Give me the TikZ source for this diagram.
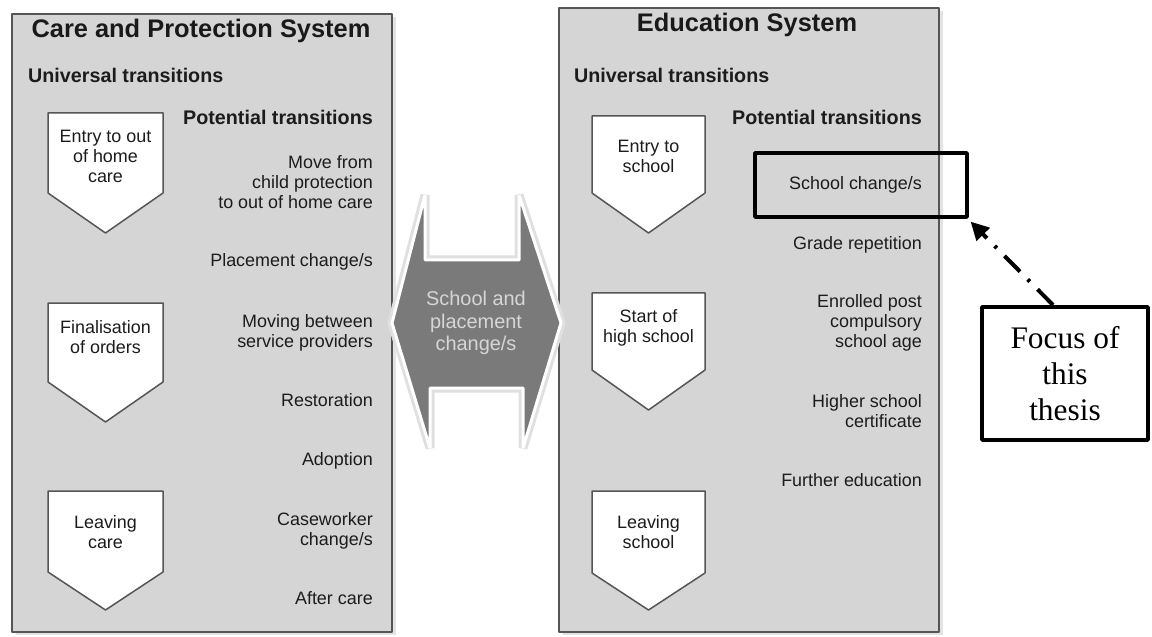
\documentclass[tikz,border=0pt]{standalone}
\usepackage{fontspec}
\setmainfont{Liberation Sans}
\newfontfamily\thesisfont{Liberation Serif}
\usepackage{tikz}
\usetikzlibrary{shapes,arrows,arrows.meta,shadows,positioning}
\definecolor{panelcol}{RGB}{213,213,213}
\definecolor{edgecol}{RGB}{85,85,85}
\definecolor{txtcol}{RGB}{28,28,28}
\definecolor{swapcol}{RGB}{122,122,122}
\definecolor{swaptxt}{RGB}{214,214,214}

\begin{document}
\begin{tikzpicture}[x=1bp,y=-1bp,line join=bevel,
  panel/.style={draw=edgecol,fill=panelcol,line width=2bp,
    drop shadow={shadow xshift=4bp,shadow yshift=-3bp,opacity=.22}},
  chev/.style={draw=edgecol,fill=white,line width=1.5bp},
  txt/.style={inner sep=0pt,text=txtcol,font=\fontsize{18}{20}\selectfont},
  rtxt/.style={txt,align=right,anchor=north east},
  ctxt/.style={txt,align=center,anchor=north},
  head/.style={inner sep=0pt,text=txtcol,font=\bfseries\fontsize{19.8}{22}\selectfont},
  title/.style={inner sep=0pt,text=black!90,font=\bfseries\fontsize{25.5}{28}\selectfont,anchor=base},
  hlbox/.style={draw=black,line width=4bp,inner sep=0pt},
  focusbox/.style={draw=black,fill=white,line width=4bp,inner sep=0pt,
    minimum width=166bp,minimum height=133bp,align=center,
    font=\thesisfont\fontsize{31.5}{36.5}\selectfont},
  focusarrow/.style={line width=4bp,dash pattern=on 22bp off 11bp on 3bp off 11bp,
    -{Triangle[length=18bp,width=18bp]},shorten >=3bp}]
\useasboundingbox (0,0) rectangle (1152,637);

% the two systems
\node[panel,minimum width=380bp,minimum height=618bp] (lpanel) at (202,323) {};
\node[panel,minimum width=380bp,minimum height=624bp] (rpanel) at (749,320) {};

\node[title] (ltitle) at (201,38) {Care and Protection System};
\node[title] (rtitle) at (747,32) {Education System};

\node[head,anchor=base west] (luniv) at (28,83) {Universal transitions};
\node[head,anchor=base west] (runiv) at (574,83) {Universal transitions};
\node[head,anchor=base east] (lpot) at (373,125) {Potential transitions};
\node[head,anchor=base east] (rpot) at (922,125) {Potential transitions};

% universal transitions, care side
\draw[chev] (48,113) -- ++(115,0) -- ++(0,80) -- ++(-57.5,40) -- ++(-57.5,-40) -- cycle;
\draw[chev] (48,303) -- ++(115,0) -- ++(0,79) -- ++(-57.5,40) -- ++(-57.5,-40) -- cycle;
\draw[chev] (48,491) -- ++(115,0) -- ++(0,81) -- ++(-57.5,38) -- ++(-57.5,-38) -- cycle;
\node[ctxt] (entry) at (105.5,130) {Entry to out\\of home\\care};
\node[ctxt] (final) at (105.5,320) {Finalisation\\of orders};
\node[ctxt] (leavec) at (105.5,515) {Leaving\\care};

% universal transitions, school side
\draw[chev] (592,116) -- ++(113,0) -- ++(0,77) -- ++(-56.5,40) -- ++(-56.5,-40) -- cycle;
\draw[chev] (592,293) -- ++(113,0) -- ++(0,77) -- ++(-56.5,40) -- ++(-56.5,-40) -- cycle;
\draw[chev] (592,491) -- ++(113,0) -- ++(0,82) -- ++(-56.5,37) -- ++(-56.5,-37) -- cycle;
\node[ctxt] (school) at (648.5,140) {Entry to\\school};
\node[ctxt] (high) at (648.5,309) {Start of\\high school};
\node[ctxt] (leaves) at (648.5,515) {Leaving\\school};

% potential transitions, care side
\node[rtxt] (move) at (373,155) {Move from\\child protection\\to out of home care};
\node[txt,anchor=base east] (place) at (373,267) {Placement change/s};
\node[rtxt] (provider) at (373,314) {Moving between\\service providers};
\node[txt,anchor=base east] (restore) at (373,406) {Restoration};
\node[txt,anchor=base east] (adopt) at (373,465) {Adoption};
\node[rtxt] (casew) at (373,512) {Caseworker\\change/s};
\node[txt,anchor=base east] (after) at (373,604) {After care};

% potential transitions, school side
\node[txt,anchor=base east] (schchange) at (922,190) {School change/s};
\node[txt,anchor=base east] (grade) at (922,250) {Grade repetition};
\node[rtxt] (enrol) at (922,294) {Enrolled post\\compulsory\\school age};
\node[rtxt] (hsc) at (922,394) {Higher school\\certificate};
\node[txt,anchor=base east] (further) at (922,486) {Further education};

% double arrow in the middle
\draw[black!12,line width=9bp] (425,195) -- (425,260) -- (519,260) -- (519,195) -- (561,323)
  -- (523,448) -- (523,388) -- (430,388) -- (430,448) -- (392,323) -- cycle;
\draw[fill=swapcol,draw=white,line width=3bp] (425,195) -- (425,260) -- (519,260) -- (519,195)
  -- (561,323) -- (523,448) -- (523,388) -- (430,388) -- (430,448) -- (392,323) -- cycle;
\node[inner sep=0pt,anchor=north,align=center,text=swaptxt,
  font=\fontsize{20}{23}\selectfont] (swap) at (476,290.5) {School and\\placement\\change/s};

% focus of the thesis
\node[hlbox,minimum width=212bp,minimum height=64bp] (hl) at (860.5,185.5) {};
\node[focusbox] (focus) at (1065,373.5) {Focus of\\this\\thesis};
\draw[focusarrow] ([xshift=-12bp]focus.north) -- (hl.south east);
\end{tikzpicture}
\end{document}
